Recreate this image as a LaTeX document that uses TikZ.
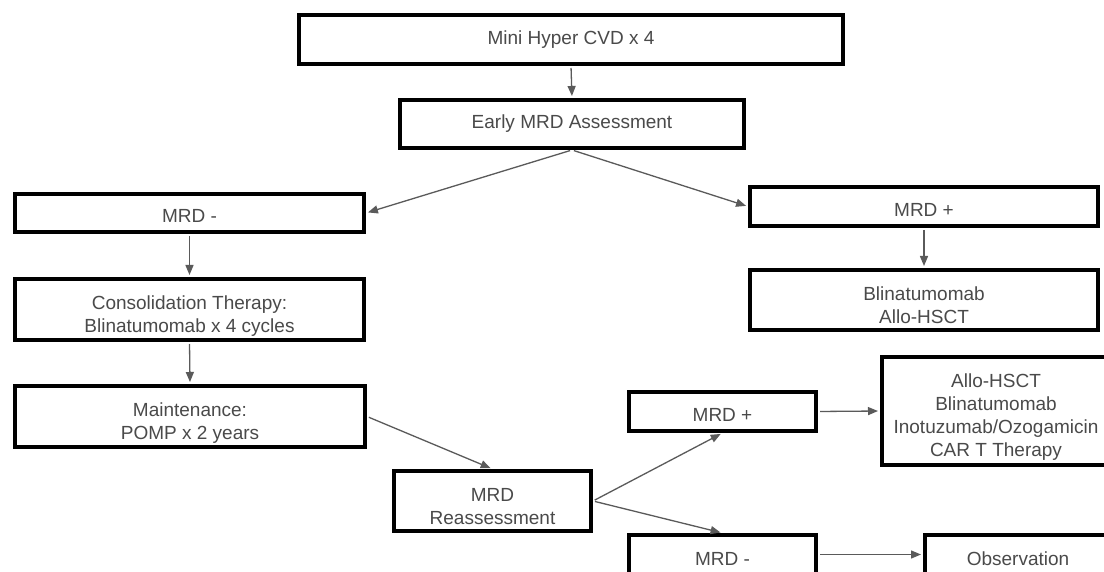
\documentclass[tikz,border=0pt]{standalone}
\usepackage{fontspec}
\setmainfont{Liberation Sans}
\usetikzlibrary{arrows.meta}
\definecolor{txt}{HTML}{4A4A4A}
\definecolor{arr}{HTML}{5A5A5A}
\newcommand\tup[1]{\rule{0pt}{#1pt}}
\begin{document}
\begin{tikzpicture}[x=1pt,y=-1pt,
  box/.style={draw=black,line width=4pt,fill=white,text=txt,align=center,inner sep=0pt,
    font=\fontsize{19}{23}\selectfont},
  conn/.style={draw=arr,line width=1.3pt,shorten >=2pt,shorten <=2pt,
    -{Triangle[length=10pt,width=8pt]}}]
\useasboundingbox (0,0) rectangle (1104,572);
\clip (0,0) rectangle (1104,572);
\fill[white] (0,0) rectangle (1104,572);

\node[box,minimum width=544pt,minimum height=49pt] (top) at (571,39.5) {Mini Hyper CVD x 4};
\node[box,minimum width=344pt,minimum height=48pt] (early) at (572,124) {Early MRD Assessment};
\node[box,minimum width=349pt,minimum height=38pt] (mrdn) at (189.5,213) {\tup{20}MRD -};
\node[box,minimum width=349pt,minimum height=61pt] (consol) at (189.5,309.5) {\tup{26}Consolidation Therapy:\\Blinatumomab x 4 cycles};
\node[box,minimum width=350pt,minimum height=61pt] (maint) at (190,416.5) {\tup{26}Maintenance:\\POMP x 2 years};
\node[box,minimum width=348pt,minimum height=39pt] (mrdp) at (924,206.5) {\tup{20}MRD +};
\node[box,minimum width=348pt,minimum height=60pt] (blina) at (924,300) {\tup{24}Blinatumomab\\Allo-HSCT};
\node[box,minimum width=197pt,minimum height=60pt] (reass) at (492.5,501) {\tup{24}MRD\\Reassessment};
\node[box,minimum width=187pt,minimum height=39pt] (mrdp2) at (722.5,411.5) {\tup{20}MRD +};
\node[box,minimum width=187pt,minimum height=39pt] (mrdn2) at (722.5,554.5) {\tup{22}MRD -};
\node[box,minimum width=228pt,minimum height=108pt] (big) at (996,411) {\tup{26}Allo-HSCT\\Blinatumomab\\Inotuzumab/Ozogamicin\\CAR T Therapy};
\node[box,minimum width=186pt,minimum height=39pt] (obs) at (1018,554.5) {\tup{22}Observation};

\draw[conn] (top.south) -- (early.north);
\draw[conn] (early.south) -- (mrdn.east);
\draw[conn] (early.south) -- (mrdp.west);
\draw[conn] (mrdn.south) -- (consol.north);
\draw[conn] (consol.south) -- (maint.north);
\draw[conn] (mrdp.south) -- (blina.north);
\draw[conn] (maint.east) -- (reass.north);
\draw[conn] (reass.east) -- (mrdp2.south);
\draw[conn] (reass.east) -- (mrdn2.north);
\draw[conn] (mrdp2.east) -- (big.west);
\draw[conn] (mrdn2.east) -- (obs.west);
\end{tikzpicture}
\end{document}
